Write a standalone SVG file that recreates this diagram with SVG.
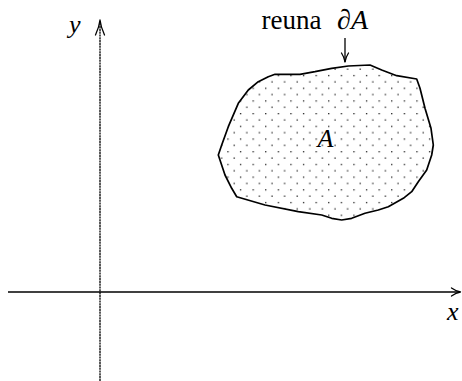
<svg xmlns="http://www.w3.org/2000/svg" width="462" height="381" viewBox="0 0 462 381">
<style>
.lbl{font-family:"Liberation Serif","Times New Roman",serif;fill:#000}
.it{font-style:italic}
.ax{stroke:#000;stroke-width:1.3;fill:none}
.hd{stroke:#000;stroke-width:1.3;fill:none;stroke-linecap:round;stroke-linejoin:round}
.edge{stroke:#000;stroke-width:1.7;stroke-linejoin:round}
</style>
<defs>
<pattern id="dots" patternUnits="userSpaceOnUse" x="277.7" y="151.1" width="12.6" height="12.7">
<rect x="0" y="0" width="1.3" height="1.3" fill="#222"/>
<rect x="6.3" y="6.35" width="1.3" height="1.3" fill="#222"/>
</pattern>
</defs>
<rect width="462" height="381" fill="#fff"/>
<g id="region">
<path class="edge" fill="url(#dots)" d="M275,74.3 L300,74.3 L315,71.7 L331.7,68.3 L348.3,66 L370,65 L381.7,70 L396.7,75.7 L416.7,79 L420,88.3 L425,108.3 L431,128.3 L433.3,145 L431.7,155 L426.7,170 L418.3,181.7 L411.7,191.7 L403.3,198.3 L388.3,206.7 L378.3,210 L365,213.3 L351.7,218.3 L341.7,220 L331.7,218.3 L321.7,215 L298.3,211.7 L265,205 L236.7,196.7 L231.7,188.3 L225,175 L218.3,155 L221.7,145 L228.3,126.7 L238.3,103.3 L248.3,90 L258.3,81.7 L268.3,76.7 Z"/>
<text class="lbl it" x="317.5" y="146.7" font-size="26">A</text>
</g>
<g id="boundary-label">
<text class="lbl" x="261.5" y="28.5" font-size="27">reuna <tspan class="it" x="337" font-size="28">∂</tspan><tspan class="it" x="351" font-size="28">A</tspan></text>
</g>
<g id="connectors">
<line class="ax" x1="345" y1="38" x2="345" y2="62"/>
<path class="hd" d="M341.5,53 Q344.2,57 345,62 Q345.8,57 348.5,53"/>
<line class="ax" x1="8" y1="292" x2="460" y2="292"/>
<path class="hd" d="M451.5,288 Q456,291.2 460.5,292 Q456,292.8 451.5,296"/>
<line class="ax" x1="100" y1="381" x2="100" y2="21" stroke-width="1.5" stroke-dasharray="2.2 0.6"/>
<path class="hd" d="M95.5,35 Q99.2,27 100,20 Q100.8,27 104.5,35"/>
</g>
<g id="axis-labels">
<text class="lbl it" x="69" y="33" font-size="26">y</text>
<text class="lbl it" x="447" y="320" font-size="26">x</text>
</g>
</svg>
